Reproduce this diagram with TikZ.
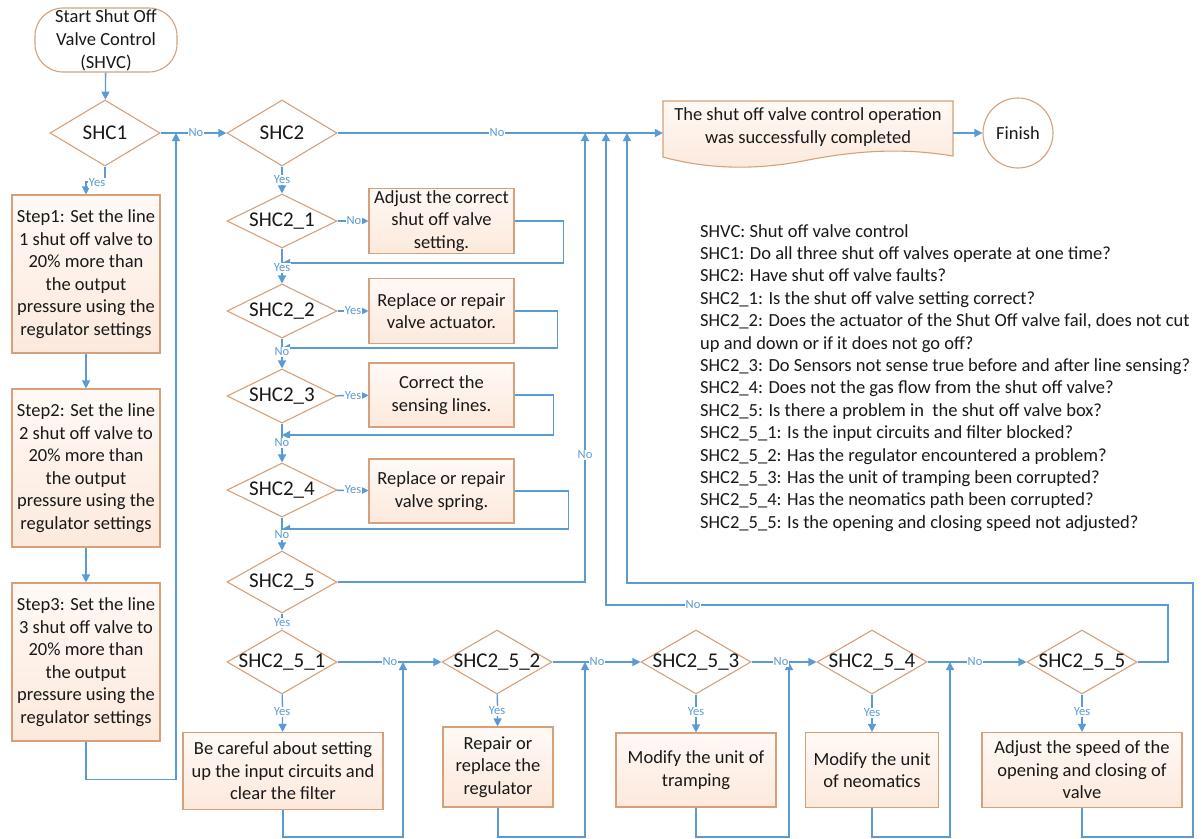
\documentclass[tikz,border=0pt]{standalone}
\usepackage{fontspec}
\setmainfont{Carlito}
\usetikzlibrary{arrows.meta,shapes.geometric,calc}
\definecolor{lnc}{RGB}{91,155,213}
\definecolor{bdc}{RGB}{214,160,122}
\definecolor{pktop}{RGB}{255,249,245}
\definecolor{pkbot}{RGB}{252,233,220}
\definecolor{txc}{RGB}{25,25,25}
\newcommand{\dz}[1]{\makebox[0pt]{#1}}
\begin{document}
\begin{tikzpicture}[x=1pt,y=-1pt,
  every node/.style={text=txc},
  dia/.style={diamond, draw=bdc, line width=1.1pt, fill=white, inner sep=0pt, minimum width=110pt, minimum height=#1, font=\fontsize{21}{24}\selectfont},
  dia/.default=64pt,
  proc/.style={rectangle, draw=bdc, line width=1.1pt, top color=pktop, bottom color=pkbot, align=center, inner sep=2pt, font=\fontsize{18.5}{22.5}\selectfont},
  lbl/.style={font=\fontsize{12.5}{14}\selectfont, text=lnc, fill=white, inner sep=0.8pt},
  conn/.style={draw=lnc, line width=1.3pt},
  arr/.style={conn, -{Triangle[length=8pt,width=8pt]}},
]
\useasboundingbox[fill=white] (0,0) rectangle (1202,838);

% ---------- nodes ----------
\node[rectangle, rounded corners=28pt, draw=bdc, line width=1.1pt, fill=white, minimum width=142pt, minimum height=64pt, align=center, inner sep=0pt, font=\fontsize{18.5}{23}\selectfont] (start) at (106,40) {Start Shut Off\\Valve Control\\(SHVC)};

\node[dia=66pt] (shc1) at (105,133) {\dz{SHC1}};
\node[proc, minimum width=148pt, minimum height=158pt] (step1) at (86,274) {Step1: Set the line\\1 shut off valve to\\20\% more than\\the output\\pressure using the\\regulator settings};
\node[proc, minimum width=148pt, minimum height=158pt] (step2) at (86,468) {Step2: Set the line\\2 shut off valve to\\20\% more than\\the output\\pressure using the\\regulator settings};
\node[proc, minimum width=148pt, minimum height=158pt] (step3) at (86,662) {Step3: Set the line\\3 shut off valve to\\20\% more than\\the output\\pressure using the\\regulator settings};

\node[dia=66pt] (shc2) at (282,133) {\dz{SHC2}};
\node[dia=54pt] (shc21) at (282,221) {\dz{SHC2\_1}};
\node[dia=54pt] (shc22) at (282,311) {\dz{SHC2\_2}};
\node[dia=54pt] (shc23) at (282,396) {\dz{SHC2\_3}};
\node[dia=54pt] (shc24) at (282,490) {\dz{SHC2\_4}};
\node[dia=62pt] (shc25) at (282,582) {\dz{SHC2\_5}};

\node[proc, minimum width=145pt, minimum height=65pt] (box21) at (441.5,221) {Adjust the correct\\shut off valve\\setting.};
\node[proc, minimum width=145pt, minimum height=65pt] (box22) at (441.5,311) {Replace or repair\\valve actuator.};
\node[proc, minimum width=145pt, minimum height=64pt] (box23) at (441.5,395) {Correct the\\sensing lines.};
\node[proc, minimum width=145pt, minimum height=64pt] (box24) at (441.5,491) {Replace or repair\\valve spring.};

\node[dia] (shc251) at (282,662) {\dz{SHC2\_5\_1}};
\node[dia] (shc252) at (497,662) {\dz{SHC2\_5\_2}};
\node[dia] (shc253) at (696,662) {\dz{SHC2\_5\_3}};
\node[dia] (shc254) at (872,662) {\dz{SHC2\_5\_4}};
\node[dia] (shc255) at (1082,662) {\dz{SHC2\_5\_5}};

\node[proc, minimum width=200pt, minimum height=77pt] (box251) at (283,771) {Be careful about setting\\up the input circuits and\\clear the filter};
\node[proc, minimum width=110pt, minimum height=80pt] (box252) at (498,767) {Repair or\\replace the\\regulator};
\node[proc, minimum width=160pt, minimum height=74pt] (box253) at (696,770) {Modify the unit of\\tramping};
\node[proc, minimum width=133pt, minimum height=75pt] (box254) at (872,770) {Modify the unit\\of neomatics};
\node[proc, minimum width=200pt, minimum height=75pt] (box255) at (1082,770) {Adjust the speed of the\\opening and closing of\\valve};

% document shape
\path[draw=bdc, line width=1.1pt, top color=pktop, bottom color=pkbot]
  (663,101) -- (953,101) -- (953,156)
  .. controls (905,148) and (860,150) .. (808,160)
  .. controls (760,170) and (710,170) .. (663,157) -- cycle;
\node[minimum width=290pt, inner sep=0pt, align=center, font=\fontsize{18.5}{22.5}\selectfont] (doc) at (808,127) {The shut off valve control operation\\was successfully completed};
\node[circle, draw=bdc, line width=1.1pt, fill=white, minimum size=70pt, inner sep=0pt, font=\fontsize{18.5}{22}\selectfont] (fin) at (1018,133) {Finish};

% merge coordinates
\coordinate (c1) at (176,133);
\coordinate (c2) at (585,133);
\coordinate (c3) at (606,133);
\coordinate (c4) at (627,133);
\coordinate (m1) at (282,263);
\coordinate (m2) at (282,348);
\coordinate (m3) at (282,435);
\coordinate (m4) at (282,529);
\coordinate (j1) at (403,662);
\coordinate (j2) at (585,662);
\coordinate (j3) at (789,662);
\coordinate (j4) at (950,662);

% ---------- connectors ----------
\draw[arr] (start) -- (shc1);
\draw[arr] (shc1.south) |- (86,182) -- (step1.north);
\draw[arr] (step1) -- (step2);
\draw[arr] (step2) -- (step3);
\draw[arr] (step3.south) -- ++(0,38) -| (c1);
\draw[arr] (shc1.east) -- (shc2.west);
\draw[arr] (shc2.east) -- (shc2.east -| doc.west);
\draw[arr] (doc.east |- fin.west) -- (fin.west);

\draw[arr] (shc2) -- (shc21);
\draw[arr] (shc21) -- (box21);
\draw[arr] (shc21) -- (shc22);
\draw[arr] (box21.east) -- ++(49,0) |- (m1);
\draw[arr] (shc22) -- (box22);
\draw[arr] (shc22) -- (shc23);
\draw[arr] (box22.east) -- ++(43,0) |- (m2);
\draw[arr] (shc23) -- (box23);
\draw[arr] (shc23) -- (shc24);
\draw[arr] (box23.east) -- ++(39,0) |- (m3);
\draw[arr] (shc24) -- (box24);
\draw[arr] (shc24) -- (shc25);
\draw[arr] (box24.east) -- ++(54,0) |- (m4);

\draw[arr] (shc25.east) -| (c2);
\draw[arr] (shc25) -- (shc251);

\draw[arr] (shc251) -- (shc252);
\draw[arr] (shc252) -- (shc253);
\draw[arr] (shc253) -- (shc254);
\draw[arr] (shc254) -- (shc255);

\draw[arr] (shc251) -- (box251);
\draw[arr] (shc252) -- (box252);
\draw[arr] (shc253) -- (box253);
\draw[arr] (shc254) -- (box254);
\draw[arr] (shc255) -- (box255);

\draw[arr] (box251.south) |- (403,837) -- (j1);
\draw[arr] (box252.south) |- (585,837) -- (j2);
\draw[arr] (box253.south) |- (789,837) -- (j3);
\draw[arr] (box254.south) |- (950,837) -- (j4);
\draw[arr] (box255.south) |- (1193,837) -- (1193,583) -- (627,583) -- (c4);
\draw[arr] (shc255.east) -- (1168,662) -- (1168,605) -- (606,605) -- (c3);

% ---------- connector labels ----------
\node[lbl] at (97,183) {Yes};
\node[lbl] at (196,133) {No};
\node[lbl] at (497,133) {No};
\node[lbl] at (282,180) {Yes};
\node[lbl] at (354,221) {No};
\node[lbl] at (282,268) {Yes};
\node[lbl] at (353,311) {Yes};
\node[lbl] at (282,352) {No};
\node[lbl] at (353,396) {Yes};
\node[lbl] at (282,443) {No};
\node[lbl] at (353,490) {Yes};
\node[lbl] at (282,535) {No};
\node[lbl] at (585,455) {No};
\node[lbl] at (282,623) {Yes};
\node[lbl] at (390,662) {No};
\node[lbl] at (597,662) {No};
\node[lbl] at (781,662) {No};
\node[lbl] at (975,662) {No};
\node[lbl] at (693,605) {No};
\node[lbl] at (282,712) {Yes};
\node[lbl] at (497,711) {Yes};
\node[lbl] at (696,712) {Yes};
\node[lbl] at (872,713) {Yes};
\node[lbl] at (1082,712) {Yes};

% ---------- legend ----------
\node[anchor=north west, inner sep=0pt, align=left, font=\fontsize{18.5}{22.4}\selectfont] (legend) at (700,224) {SHVC: Shut off valve control\\
SHC1: Do all three shut off valves operate at one time?\\
SHC2: Have shut off valve faults?\\
SHC2\_1: Is the shut off valve setting correct?\\
SHC2\_2: Does the actuator of the Shut Off valve fail, does not cut\\
up and down or if it does not go off?\\
SHC2\_3: Do Sensors not sense true before and after line sensing?\\
SHC2\_4: Does not the gas flow from the shut off valve?\\
SHC2\_5: Is there a problem in\ \ the shut off valve box?\\
SHC2\_5\_1: Is the input circuits and filter blocked?\\
SHC2\_5\_2: Has the regulator encountered a problem?\\
SHC2\_5\_3: Has the unit of tramping been corrupted?\\
SHC2\_5\_4: Has the neomatics path been corrupted?\\
SHC2\_5\_5: Is the opening and closing speed not adjusted?};
\end{tikzpicture}
\end{document}
